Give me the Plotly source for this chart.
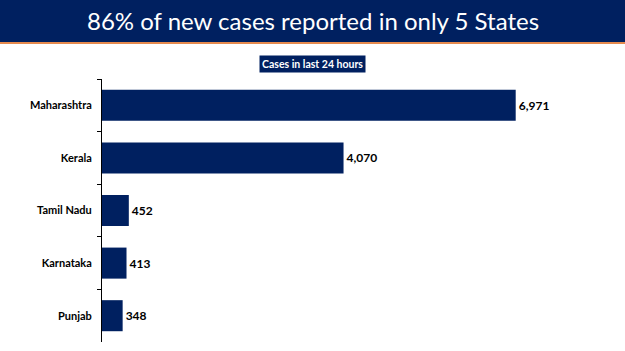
import plotly.graph_objects as go

states = ["Maharashtra", "Kerala", "Tamil Nadu", "Karnataka", "Punjab"]
cases = [6971, 4070, 452, 413, 348]
title_text = "86% of new cases reported in only 5 States"
box_text = "Cases in last 24 hours"

NAVY = "#002060"
W, H = 625, 351
L, R, T, B = 102, 25, 79, 9
pw, ph = W - L - R, H - T - B

def px_x(px):
    return (px - L) / pw

def px_y(py):
    return (H - B - py) / ph

fig = go.Figure(go.Bar(
    y=states, x=cases, orientation="h",
    marker=dict(color=NAVY, line=dict(width=0)),
    text=[f"{v:,}" for v in cases], textposition="outside",
    textfont=dict(family="Lato", size=12, color="black", weight="bold"),
    cliponaxis=False, width=0.59,
))

fig.update_layout(
    width=W, height=H,
    margin=dict(l=L, r=R, t=T, b=B),
    paper_bgcolor="white", plot_bgcolor="white",
    showlegend=False,
    xaxis=dict(range=[0, pw / (413.7 / 6971)], visible=False, fixedrange=True),
    yaxis=dict(autorange="reversed", showline=True, linecolor="black", linewidth=1,
               ticks="outside", ticklen=4, tickcolor="black",
               tickson="boundaries", ticklabelstandoff=7,
               tickfont=dict(family="Lato", size=11, color="black", weight="bold")),
    shapes=[
        dict(type="rect", xref="paper", yref="paper",
             x0=px_x(0), x1=px_x(W), y0=px_y(42), y1=px_y(0),
             fillcolor=NAVY, line=dict(width=0), layer="below"),
        dict(type="rect", xref="paper", yref="paper",
             x0=px_x(0), x1=px_x(W), y0=px_y(44), y1=px_y(42),
             fillcolor="#E58A4E", line=dict(width=0), layer="below"),
    ],
    annotations=[
        dict(text=title_text, xref="paper", yref="paper",
             x=px_x(312.5), y=px_y(21), xanchor="center", yanchor="middle",
             showarrow=False, font=dict(family="Lato", size=24, color="white")),
        dict(text="<b>" + box_text + "</b>", xref="paper", yref="paper",
             x=px_x(312.5), y=px_y(64.5), xanchor="center", yanchor="middle",
             showarrow=False, bgcolor=NAVY, borderpad=2,
             font=dict(family="Lato", size=10.5, color="white")),
    ],
)

fig.write_html("out.html")
